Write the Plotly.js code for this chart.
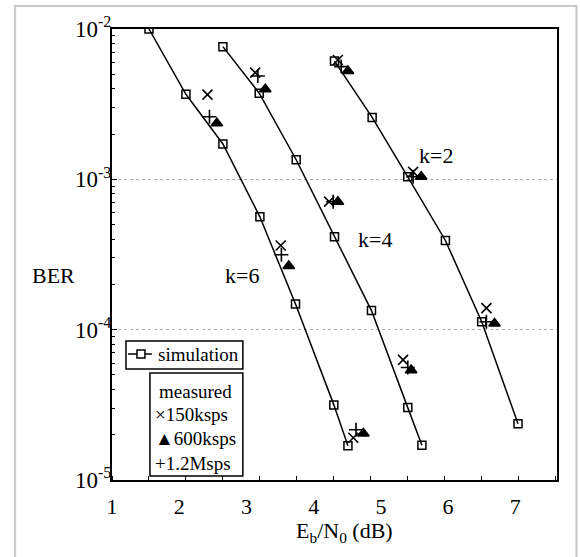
<!DOCTYPE html>
<html>
<head>
<meta charset="utf-8">
<script src="https://cdn.plot.ly/plotly-3.0.1.min.js"></script>
<style>
  html, body { margin: 0; padding: 0; background: #fff; }
  #chart { width: 580px; height: 557px; }
</style>
</head>
<body>
<div id="chart"></div>
<script>
// ---- Data (Eb/N0 in dB, BER) ----
const simK6X = [1.55, 2.10, 2.65, 3.20, 3.73, 4.30, 4.51];
const simK6Y = [1.0e-2, 3.68e-3, 1.72e-3, 5.63e-4, 1.48e-4, 3.16e-5, 1.69e-5];
const simK4X = [2.65, 3.19, 3.74, 4.31, 4.86, 5.40, 5.61];
const simK4Y = [7.63e-3, 3.74e-3, 1.35e-3, 4.15e-4, 1.34e-4, 3.03e-5, 1.70e-5];
const simK2X = [4.31, 4.87, 5.40, 5.96, 6.50, 7.04];
const simK2Y = [6.12e-3, 2.58e-3, 1.04e-3, 3.92e-4, 1.13e-4, 2.37e-5];

const m150X = [2.42, 3.51, 4.59, 3.13, 4.23, 5.33, 4.36, 5.48, 6.57];
const m150Y = [3.66e-3, 3.63e-4, 1.91e-5, 5.13e-3, 7.1e-4, 6.3e-5, 6.22e-3, 1.12e-3, 1.39e-4];
const m600X = [2.56, 3.63, 4.74, 3.28, 4.36, 5.45, 4.51, 5.60, 6.69];
const m600Y = [2.36e-3, 2.65e-4, 2.04e-5, 3.97e-3, 7.1e-4, 5.38e-5, 5.26e-3, 1.04e-3, 1.10e-4];
const m12X = [2.45, 3.52, 4.63, 3.17, 4.29, 5.40, 4.41, 5.48, 6.57];
const m12Y = [2.61e-3, 3.15e-4, 2.16e-5, 4.87e-3, 7.1e-4, 5.6e-5, 5.62e-3, 1.04e-3, 1.13e-4];

const xTickVals = [1, 2, 3, 4, 5, 6, 7];
const yTickVals = [1e-5, 1e-4, 1e-3, 1e-2];
const yTickText = ['10<sup>-5</sup>', '10<sup>-4</sup>', '10<sup>-3</sup>', '10<sup>-2</sup>'];
const curveLabels = ['k=2', 'k=4', 'k=6'];
const curveLabelX = [5.82, 4.91, 2.94];
const curveLabelY = [1.43e-3, 3.95e-4, 2.31e-4];

const FONT = 'Liberation Serif, Times New Roman, serif';

function simTrace(x, y, name) {
  return {
    x: x, y: y, name: name, type: 'scatter', mode: 'lines+markers',
    line: {color: 'black', width: 1.5},
    marker: {symbol: 'square-open', size: 8, color: 'black', line: {width: 1.5, color: 'black'}},
    showlegend: false
  };
}
function measTrace(x, y, name, symbol, size) {
  return {
    x: x, y: y, name: name, type: 'scatter', mode: 'markers',
    marker: {symbol: symbol, size: size, color: 'black', line: {width: 1.6, color: 'black'}},
    showlegend: false
  };
}

const traces = [
  simTrace(simK6X, simK6Y, 'simulation k=6'),
  simTrace(simK4X, simK4Y, 'simulation k=4'),
  simTrace(simK2X, simK2Y, 'simulation k=2'),
  measTrace(m150X, m150Y, '150ksps', 'x-thin-open', 10),
  measTrace(m600X, m600Y, '600ksps', 'triangle-up', 10),
  measTrace(m12X, m12Y, '1.2Msps', 'cross-thin-open', 10)
];

// plot area geometry (px) used for paper conversions
const L = 112, R = 557.5, T = 29, B = 480;
const W = R - L, H = B - T;
const px = v => (v - L) / W;
const py = v => (B - v) / H;

function txt(xp, yp, t, size, xanchor) {
  return {x: px(xp), y: py(yp), xref: 'paper', yref: 'paper', text: t, showarrow: false,
    xanchor: xanchor || 'center', yanchor: 'middle',
    font: {family: FONT, size: size, color: 'black'}};
}

const annotations = [];
curveLabels.forEach((t, i) => {
  annotations.push({
    x: curveLabelX[i], y: Math.log10(curveLabelY[i]), xref: 'x', yref: 'y',
    xanchor: 'center', yanchor: 'middle',
    text: t, showarrow: false, font: {family: FONT, size: 22, color: 'black'}
  });
});
annotations.push(txt(53, 275, 'BER', 22));
annotations.push(txt(345, 532, 'E<sub>b</sub>/N<sub>0</sub> (dB)', 22));
// legend text
annotations.push(txt(156, 354, 'simulation', 19, 'left'));
const measLines = ['measured', '×150ksps', '▲600ksps', '+1.2Msps'];
const measLineY = [391, 414, 438, 463];
const measLineX = [157, 153, 153, 153];
measLines.forEach((t, i) => {
  annotations.push(txt(measLineX[i], measLineY[i], t, 19, 'left'));
});

const shapes = [
  // outer light frame
  {type: 'rect', xref: 'paper', yref: 'paper', x0: px(15), x1: px(577), y0: py(562), y1: py(6),
   line: {color: '#c8c8c8', width: 2}},
  // legend boxes
  {type: 'rect', xref: 'paper', yref: 'paper', x0: px(126), x1: px(243), y0: py(369), y1: py(341),
   line: {color: 'black', width: 1.5}, fillcolor: 'white', layer: 'above'},
  {type: 'line', xref: 'paper', yref: 'paper', x0: px(128), x1: px(152), y0: py(354), y1: py(354),
   line: {color: 'black', width: 1.5}},
  {type: 'rect', xref: 'paper', yref: 'paper', x0: px(137), x1: px(145), y0: py(358), y1: py(350),
   line: {color: 'black', width: 1.5}, fillcolor: 'white'},
  {type: 'rect', xref: 'paper', yref: 'paper', x0: px(150), x1: px(243), y0: py(476), y1: py(373),
   line: {color: 'black', width: 1.5}, fillcolor: 'white', layer: 'above'}
];

const layout = {
  width: 580, height: 557,
  margin: {l: L, r: 580 - R, t: T, b: 557 - B},
  paper_bgcolor: 'white', plot_bgcolor: 'white',
  font: {family: FONT, size: 21, color: 'black'},
  showlegend: false,
  xaxis: {
    range: [1, 7.62], tickvals: xTickVals, ticks: '', showgrid: false, zeroline: false,
    showline: true, linecolor: 'black', linewidth: 2, mirror: true,
    tickfont: {family: FONT, size: 22, color: 'black'}, ticklabelstandoff: 6,
    minor: {tick0: 1, dtick: 0.55, ticks: 'inside', ticklen: 4, tickcolor: 'black', tickwidth: 1, showgrid: false}
  },
  yaxis: {
    type: 'log', range: [-5, -2], tickvals: yTickVals, ticktext: yTickText,
    ticks: 'inside', ticklen: 5, tickcolor: 'black',
    showgrid: true, gridcolor: '#b0b0b0', gridwidth: 1, griddash: 'dot', zeroline: false,
    showline: true, linecolor: 'black', linewidth: 2, mirror: true,
    tickfont: {family: FONT, size: 23, color: 'black'}, ticklabelstandoff: -6,
    minor: {dtick: 'D1', ticks: 'inside', ticklen: 3, tickcolor: 'black', tickwidth: 1, showgrid: false}
  },
  annotations: annotations,
  shapes: shapes
};

Plotly.newPlot('chart', traces, layout, {displayModeBar: false, staticPlot: true});
</script>
</body>
</html>
